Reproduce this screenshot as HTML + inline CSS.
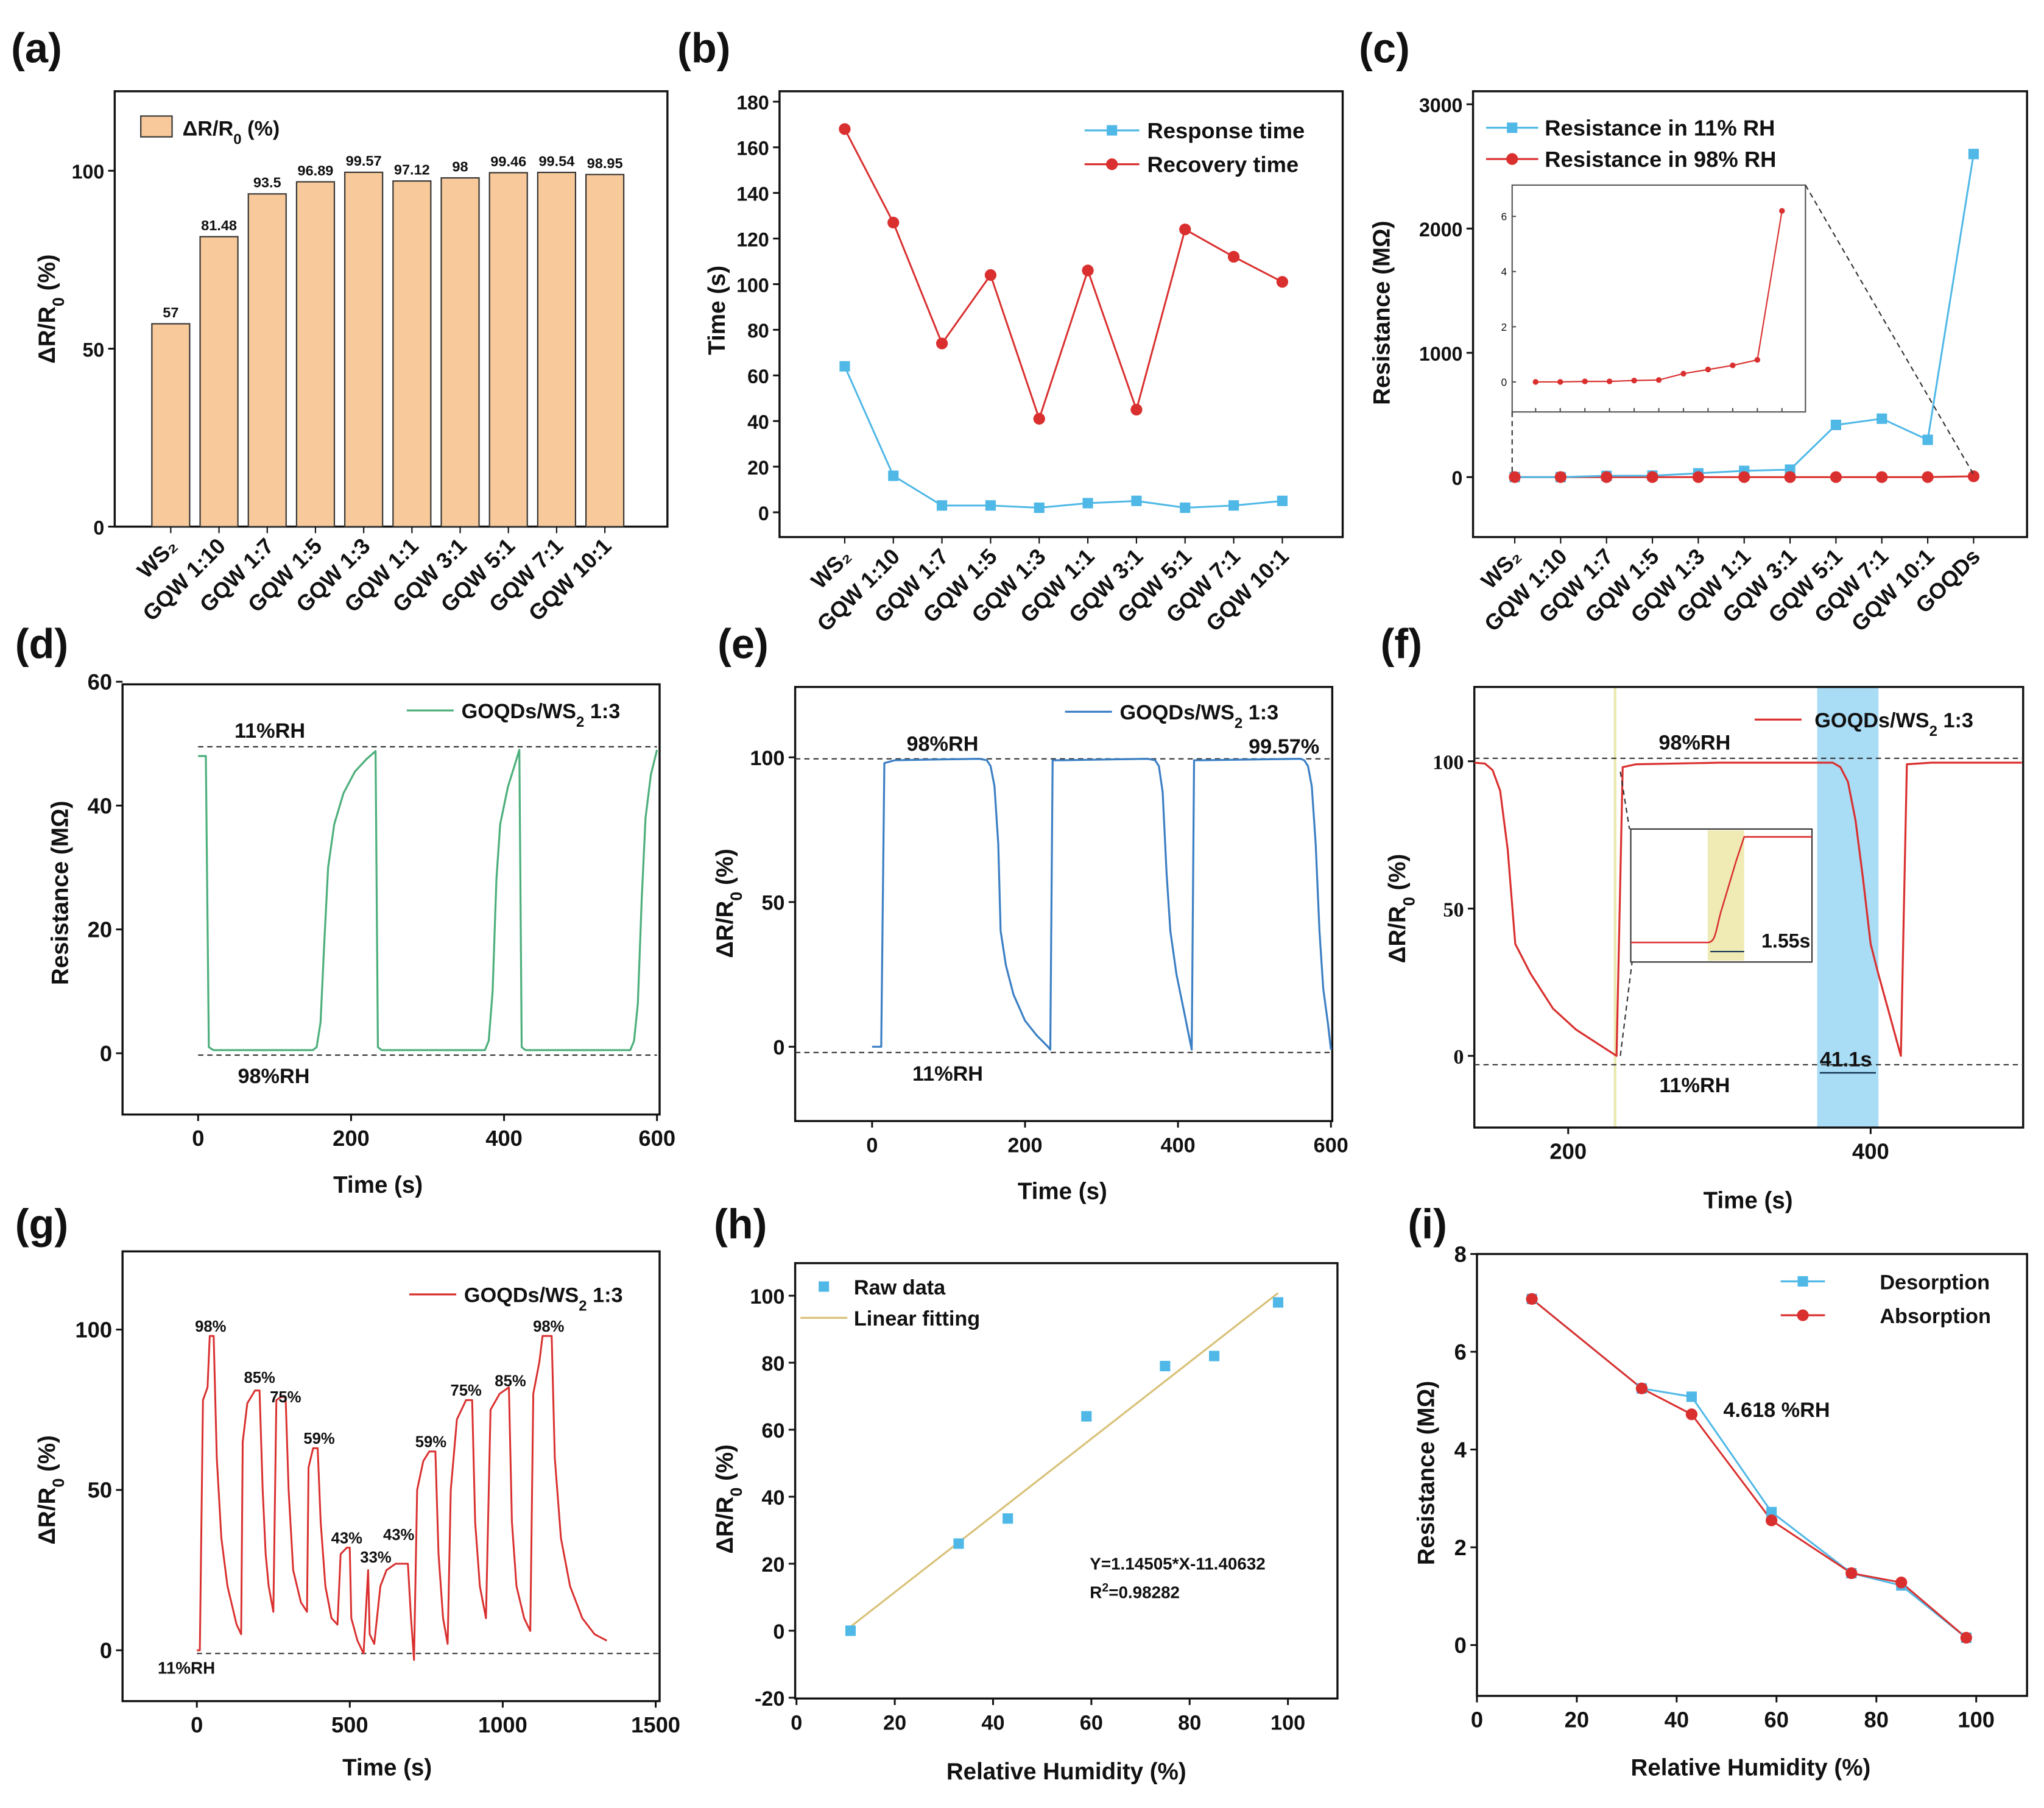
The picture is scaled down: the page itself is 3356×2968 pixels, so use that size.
<!DOCTYPE html>
<html><head><meta charset="utf-8">
<style>
html,body{margin:0;padding:0;background:#fff;}
svg{display:block;font-family:"Liberation Sans",Arial,sans-serif;}
</style></head>
<body>
<svg id="fig" width="3356" height="2968" viewBox="0 0 1568 1387" preserveAspectRatio="none" xmlns="http://www.w3.org/2000/svg"></svg>
<script>
// ---------- data ----------
const catsA=['WS₂','GQW 1:10','GQW 1:7','GQW 1:5','GQW 1:3','GQW 1:1','GQW 3:1','GQW 5:1','GQW 7:1','GQW 10:1'];
const valsA=[57,81.48,93.5,96.89,99.57,97.12,98,99.46,99.54,98.95];
const labelsA=['57','81.48','93.5','96.89','99.57','97.12','98','99.46','99.54','98.95'];
const respB=[64,16,3,3,2,4,5,2,3,5];
const recB=[168,127,74,104,41,106,45,124,112,101];
const catsC=['WS₂','GQW 1:10','GQW 1:7','GQW 1:5','GQW 1:3','GQW 1:1','GQW 3:1','GQW 5:1','GQW 7:1','GQW 10:1','GOQDs'];
const res11C=[0,0,10,12,30,50,60,420,470,300,2600];
const res98C=[0,0,0,0,0,0,0,0,0,0,6.2];
const insetC=[0,0,0.02,0.02,0.05,0.07,0.3,0.45,0.6,0.8,6.2];
const tD=[0,10,14,20,150,155,160,165,170,178,190,205,220,232,235,240,375,380,385,390,395,405,415,420,423,428,565,570,575,580,585,592,600];
const vD=[48,48,1,0.5,0.5,1,5,18,30,37,42,45.5,47.5,48.8,1,0.5,0.5,2,10,28,37,43,47,49,1,0.5,0.5,2,8,25,38,45,49];
const tE=[0,12,16,30,140,150,155,160,165,168,175,185,200,215,230,233,236,250,360,370,375,380,385,390,398,408,418,421,430,560,565,570,575,580,585,590,596,600];
const vE=[0,0,98,99,99.5,99,97,90,70,40,28,18,9,4,0,-1,99,99,99.5,99,97,88,60,40,25,12,-1,99,99,99.5,99,97,90,70,40,20,8,-1];
const tF=[138,145,150,155,160,165,175,190,205,220,232,236,245,300,375,380,385,390,395,400,405,412,420,424,440,500];
const vF=[99.5,99.2,97,90,70,38,28,16,9,4,0,98,99,99.5,99.5,98,93,80,60,38,28,15,0,99,99.5,99.5];
const tG=[0,10,20,35,42,55,65,80,100,130,145,150,165,190,205,215,225,235,250,260,275,290,300,315,340,360,365,380,395,405,420,440,460,470,490,500,505,525,545,560,565,580,600,620,650,690,700,710,720,740,760,780,790,805,820,830,850,880,900,910,925,945,960,990,1020,1030,1045,1070,1090,1100,1120,1130,1160,1170,1190,1220,1260,1300,1320,1340];
const vG=[0,0,78,82,98,98,60,35,20,8,5,65,77,81,81,50,30,20,12,78,79,79,50,25,15,12,57,63,63,40,20,10,8,30,32,32,10,3,-1,25,5,2,20,25,27,27,10,-3,50,59,62,62,30,10,2,50,72,78,78,40,20,10,75,80,82,40,20,10,6,80,90,98,98,60,35,20,10,5,4,3];
const rhH=[11,33,43,59,75,85,98];
const respH=[0,26,33.5,64,79,82,98];
const rhI=[11,33,43,59,75,85,98];
const desI=[7.08,5.25,5.08,2.72,1.47,1.22,0.15];
const absI=[7.08,5.25,4.72,2.55,1.47,1.28,0.15];

// ---------- helpers ----------
const S=document.getElementById('fig');
const NS='http://www.w3.org/2000/svg';
function mk(tag,attrs,name,parent){
  const el=document.createElementNS(NS,tag);
  for(const k in attrs) el.setAttribute(k,attrs[k]);
  
  
  (parent||S).appendChild(el);
  return el;
}
function txt(x,y,s,size,name,opt){
  opt=opt||{};
  const el=mk('text',{x:x,y:y,'font-size':size,'font-weight':opt.w||'bold','text-anchor':opt.a||'middle',fill:opt.c||'#111','font-family':opt.f||'"Liberation Sans",Arial,sans-serif'},name);
  if(opt.r) el.setAttribute('transform','rotate('+opt.r+' '+x+' '+y+')');
  el.innerHTML=s;
  return el;
}
function lin(d0,d1,r0,r1){return v=>r0+(v-d0)*(r1-r0)/(d1-d0);}
function box(x0,y0,x1,y1,name){mk('rect',{x:x0,y:y0,width:x1-x0,height:y1-y0,fill:'none',stroke:'#111','stroke-width':1.6},name);}
function yticks(x0,ys,vals,name,fs,font){vals.forEach(v=>{const y=ys(v);mk('line',{x1:x0-5,y1:y,x2:x0,y2:y,stroke:'#111','stroke-width':1.4},name+'-tick');txt(x0-8,y+6,String(v),fs||15,name+'-label',{a:'end',f:font});});}
function xticks(y0,xs,vals,name,fs,font){vals.forEach(v=>{const x=xs(v);mk('line',{x1:x,y1:y0,x2:x,y2:y0+5,stroke:'#111','stroke-width':1.4},name+'-tick');txt(x,y0+24,String(v),fs||16,name+'-label',{f:font});});}
function poly(xs,ys,tv,vv,color,name,w){let d='';tv.forEach((t,i)=>{d+=(i?'L':'M')+xs(t).toFixed(1)+','+ys(vv[i]).toFixed(1);});return mk('path',{d:d,fill:'none',stroke:color,'stroke-width':w||1.6,'stroke-linejoin':'round'},name);}
function dash(x0,x1,y,name){mk('line',{x1:x0,y1:y,x2:x1,y2:y,stroke:'#333','stroke-width':1,'stroke-dasharray':'4,3'},name);}
const DR='ΔR/R<tspan baseline-shift="sub" font-size="70%">0</tspan> (%)';
const LEG='GOQDs/WS<tspan baseline-shift="sub" font-size="70%">2</tspan> 1:3';
function catLabels(xs,cats,y,name){cats.forEach((c,i)=>{txt(xs(i)+6,y,c,17,name,{a:'end',r:-45});});}

// ---------- (a) ----------
txt(28,48,'(a)',32,'panel-label-a');
{
 const xs=i=>131+i*37, ys=lin(0,100,404,131);
 box(88,70,512,404,'plot-area-a');
 valsA.forEach((v,i)=>{mk('rect',{x:xs(i)-14.5,y:ys(v),width:29,height:404-ys(v),fill:'#f8c99a',stroke:'#333','stroke-width':1},'bar-'+i);
   txt(xs(i),ys(v)-5,labelsA[i],11,'bar-value-'+i);});
 yticks(88,ys,[0,50,100],'y-tick-a');
 catsA.forEach((c,i)=>mk('line',{x1:xs(i),y1:404,x2:xs(i),y2:409,stroke:'#111'},'x-tick-a'));
 catLabels(xs,catsA,420,'x-label-a');
 mk('rect',{x:108,y:89,width:24,height:16,fill:'#f8c99a',stroke:'#333'},'legend-swatch-a');
 txt(140,104,'ΔR/R<tspan baseline-shift="sub" font-size="70%">0</tspan> (%)',16,'legend-text-a',{a:'start'});
 txt(42,237,DR,18,'y-axis-title-a',{r:-90});
}
// ---------- (b) ----------
txt(540,48,'(b)',32,'panel-label-b');
{
 const xs=i=>648+i*37.3, ys=lin(0,180,393,78);
 box(598,70,1030,412,'plot-area-b');
 yticks(598,ys,[0,20,40,60,80,100,120,140,160,180],'y-tick-b');
 respB.forEach((v,i)=>mk('line',{x1:xs(i),y1:412,x2:xs(i),y2:417,stroke:'#111'},'x-tick-b'));
 poly(xs,ys,respB.map((v,i)=>i),respB,'#4fb8e6','response-line',1.4);
 poly(xs,ys,recB.map((v,i)=>i),recB,'#d9302f','recovery-line',1.4);
 respB.forEach((v,i)=>mk('rect',{x:xs(i)-4,y:ys(v)-4,width:8,height:8,fill:'#4fb8e6'},'response-point'));
 recB.forEach((v,i)=>mk('circle',{cx:xs(i),cy:ys(v),r:4.5,fill:'#d9302f'},'recovery-point'));
 catLabels(xs,catsA,428,'x-label-b');
 mk('line',{x1:832,y1:100,x2:874,y2:100,stroke:'#4fb8e6','stroke-width':1.5},'legend-line-response');
 mk('rect',{x:849,y:96,width:8,height:8,fill:'#4fb8e6'},'legend-marker-response');
 txt(880,106,'Response time',17,'legend-text-response',{a:'start'});
 mk('line',{x1:832,y1:126,x2:874,y2:126,stroke:'#d9302f','stroke-width':1.5},'legend-line-recovery');
 mk('circle',{cx:853,cy:126,r:4.5,fill:'#d9302f'},'legend-marker-recovery');
 txt(880,132,'Recovery time',17,'legend-text-recovery',{a:'start'});
 txt(556,238,'Time (s)',18,'y-axis-title-b',{r:-90});
}
// ---------- (c) ----------
txt(1062,48,'(c)',32,'panel-label-c');
{
 const xs=i=>1162+i*35.2, ys=lin(0,3000,366,80);
 box(1130,70,1555,412,'plot-area-c');
 yticks(1130,ys,[0,1000,2000,3000],'y-tick-c');
 catsC.forEach((c,i)=>mk('line',{x1:xs(i),y1:412,x2:xs(i),y2:417,stroke:'#111'},'x-tick-c'));
 poly(xs,ys,res98C.map((v,i)=>i),res98C,'#d9302f','res98-line',1.4);
 poly(xs,ys,res11C.map((v,i)=>i),res11C,'#4fb8e6','res11-line',1.4);
 res11C.forEach((v,i)=>mk('rect',{x:xs(i)-4,y:ys(v)-4,width:8,height:8,fill:'#4fb8e6'},'res11-point'));
 res98C.forEach((v,i)=>mk('circle',{cx:xs(i),cy:ys(v),r:4.5,fill:'#d9302f'},'res98-point'));
 catLabels(xs,catsC,428,'x-label-c');
 mk('line',{x1:1140,y1:98,x2:1180,y2:98,stroke:'#4fb8e6','stroke-width':1.5},'legend-line-11');
 mk('rect',{x:1156,y:94,width:8,height:8,fill:'#4fb8e6'},'legend-marker-11');
 txt(1185,104,'Resistance in 11% RH',17,'legend-text-11',{a:'start'});
 mk('line',{x1:1140,y1:122,x2:1180,y2:122,stroke:'#d9302f','stroke-width':1.5},'legend-line-98');
 mk('circle',{cx:1160,cy:122,r:4.5,fill:'#d9302f'},'legend-marker-98');
 txt(1185,128,'Resistance in 98% RH',17,'legend-text-98',{a:'start'});
 txt(1066,240,'Resistance (MΩ)',18,'y-axis-title-c',{r:-90});
 const ix=i=>1178+i*18.9, iy=lin(0,6,293,166);
 mk('rect',{x:1160,y:142,width:225,height:174,fill:'#fff',stroke:'#555','stroke-width':1},'inset-c');
 [0,2,4,6].forEach(v=>{txt(1156,iy(v)+3,String(v),8,'inset-y-label',{a:'end',w:'normal'});mk('line',{x1:1160,y1:iy(v),x2:1163,y2:iy(v),stroke:'#555'},'inset-y-tick');});
 insetC.forEach((v,i)=>mk('line',{x1:ix(i),y1:316,x2:ix(i),y2:313,stroke:'#555'},'inset-x-tick'));
 poly(ix,iy,insetC.map((v,i)=>i),insetC,'#d9302f','inset-line',1);
 insetC.forEach((v,i)=>mk('circle',{cx:ix(i),cy:iy(v),r:2.2,fill:'#d9302f'},'inset-point'));
 mk('line',{x1:1160,y1:316,x2:1160,y2:364,stroke:'#333','stroke-dasharray':'4,3'},'inset-connector-left');
 mk('line',{x1:1385,y1:142,x2:1514,y2:364,stroke:'#333','stroke-dasharray':'4,3'},'inset-connector-right');
}
// ---------- (d) ----------
txt(32,505,'(d)',32,'panel-label-d');
{
 const xs=lin(0,600,152,504), ys=lin(0,60,808,523);
 box(94,525,506,855,'plot-area-d');
 yticks(94,ys,[0,20,40,60],'y-tick-d',17);
 xticks(855,xs,[0,200,400,600],'x-tick-d',17);
 dash(152,504,ys(49.5),'dashline-11rh-d'); dash(152,504,ys(-0.3),'dashline-98rh-d');
 poly(xs,ys,tD,vD,'#4daf7c','resistance-curve-d',1.5);
 txt(207,566,'11%RH',16,'label-11rh-d'); txt(210,831,'98%RH',16,'label-98rh-d');
 mk('line',{x1:312,y1:545,x2:348,y2:545,stroke:'#4daf7c','stroke-width':1.5},'legend-line-d');
 txt(354,551,LEG,16,'legend-text-d',{a:'start'});
 txt(52,685,'Resistance (MΩ)',18,'y-axis-title-d',{r:-90});
 txt(290,915,'Time (s)',18,'x-axis-title-d');
}
// ---------- (e) ----------
txt(570,505,'(e)',32,'panel-label-e');
{
 const xs=lin(0,600,669,1021), ys=lin(0,100,803,581);
 box(610,527,1022,860,'plot-area-e');
 yticks(610,ys,[0,50,100],'y-tick-e',16);
 xticks(860,xs,[0,200,400,600],'x-tick-e',16);
 dash(610,1022,ys(99.5),'dashline-98rh-e'); dash(610,1022,ys(-2),'dashline-11rh-e');
 poly(xs,ys,tE,vE,'#3b7fc4','response-curve-e',1.5);
 txt(723,576,'98%RH',16,'label-98rh-e'); txt(727,829,'11%RH',16,'label-11rh-e');
 txt(985,578,'99.57%',16,'label-value-e');
 mk('line',{x1:817,y1:546,x2:853,y2:546,stroke:'#3b7fc4','stroke-width':1.5},'legend-line-e');
 txt(859,552,LEG,16,'legend-text-e',{a:'start'});
 txt(562,693,DR,18,'y-axis-title-e',{r:-90});
 txt(815,920,'Time (s)',18,'x-axis-title-e');
}
// ---------- (f) ----------
txt(1075,505,'(f)',32,'panel-label-f');
{
 const xs=lin(200,400,1203,1435), ys=lin(0,100,810,584);
 mk('rect',{x:1394,y:527,width:47,height:338,fill:'#a9dcf5'},'highlight-band-f');
 mk('line',{x1:xs(231),y1:527,x2:xs(231),y2:865,stroke:'#eaeab0','stroke-width':2},'highlight-line-f');
 box(1131,527,1552,865,'plot-area-f');
 yticks(1131,ys,[0,50,100],'y-tick-f',16,'"Liberation Serif",serif');
 xticks(865,xs,[200,400],'x-tick-f',17);
 dash(1131,1552,ys(101),'dashline-98rh-f'); dash(1131,1552,ys(-3),'dashline-11rh-f');
 poly(xs,ys,tF,vF,'#d9302f','response-curve-f',1.5);
 txt(1300,575,'98%RH',16,'label-98rh-f'); txt(1300,838,'11%RH',16,'label-11rh-f');
 txt(1416,818,'41.1s',16,'label-41s-f');
 mk('line',{x1:1396,y1:823,x2:1439,y2:823,stroke:'#135','stroke-width':1.2},'arrow-41s-f');
 mk('line',{x1:1243,y1:592,x2:1250,y2:636,stroke:'#333','stroke-dasharray':'4,3'},'inset-connector-top-f');
 mk('line',{x1:1243,y1:810,x2:1252,y2:738,stroke:'#333','stroke-dasharray':'4,3'},'inset-connector-bottom-f');
 mk('rect',{x:1251,y:636,width:139,height:102,fill:'#fff',stroke:'#333','stroke-width':1},'inset-f');
 mk('rect',{x:1310,y:637,width:28,height:100,fill:'#f0ebb5'},'inset-band-f');
 mk('path',{d:'M1251,723 L1310,723 C1316,723 1316,715 1320,700 L1326,680 L1332,660 L1338,642 L1390,642',fill:'none',stroke:'#d9302f','stroke-width':1.2},'inset-curve-f');
 txt(1370,727,'1.55s',15,'label-155s-f');
 mk('line',{x1:1312,y1:730,x2:1338,y2:730,stroke:'#135'},'arrow-155s-f');
 mk('line',{x1:1346,y1:552,x2:1382,y2:552,stroke:'#d9302f','stroke-width':1.5},'legend-line-f');
 txt(1392,558,LEG,16,'legend-text-f',{a:'start'});
 txt(1078,697,DR,18,'y-axis-title-f',{r:-90});
 txt(1341,927,'Time (s)',18,'x-axis-title-f');
}
// ---------- (g) ----------
txt(32,950,'(g)',32,'panel-label-g');
{
 const xs=lin(0,1500,151,503), ys=lin(0,100,1266,1020);
 box(94,960,506,1305,'plot-area-g');
 yticks(94,ys,[0,50,100],'y-tick-g',17);
 xticks(1305,xs,[0,500,1000,1500],'x-tick-g',17);
 dash(151,506,ys(-1),'dashline-11rh-g');
 poly(xs,ys,tG,vG,'#d9302f','response-curve-g',1.4);
 const pl=[[45,101,'98%'],[205,85,'85%'],[290,79,'75%'],[400,66,'59%'],[490,35,'43%'],[585,29,'33%'],[660,36,'43%'],[765,65,'59%'],[880,81,'75%'],[1025,84,'85%'],[1150,101,'98%']];
 pl.forEach(p=>txt(xs(p[0]),ys(p[1])+4,p[2],12,'step-label-g'));
 txt(143,1284,'11%RH',13,'label-11rh-g');
 mk('line',{x1:314,y1:993,x2:350,y2:993,stroke:'#d9302f','stroke-width':1.5},'legend-line-g');
 txt(356,999,LEG,16,'legend-text-g',{a:'start'});
 txt(42,1143,DR,18,'y-axis-title-g',{r:-90});
 txt(297,1362,'Time (s)',18,'x-axis-title-g');
}
// ---------- (h) ----------
txt(568,950,'(h)',32,'panel-label-h');
{
 const xs=lin(0,100,611,988), ys=lin(0,100,1251,994);
 box(610,969,1026,1303,'plot-area-h');
 yticks(610,ys,[-20,0,20,40,60,80,100],'y-tick-h',16);
 xticks(1303,xs,[0,20,40,60,80,100],'x-tick-h',16);
 const fx=[11,98];
 mk('line',{x1:xs(fx[0]),y1:ys(1.14505*fx[0]-11.40632),x2:xs(fx[1]),y2:ys(1.14505*fx[1]-11.40632),stroke:'#d9c27a','stroke-width':1.5},'fit-line-h');
 rhH.forEach((r,i)=>mk('rect',{x:xs(r)-4,y:ys(respH[i])-4,width:8,height:8,fill:'#4fb8e6'},'raw-point-h'));
 mk('rect',{x:628,y:983,width:8,height:8,fill:'#4fb8e6'},'legend-marker-raw');
 txt(655,993,'Raw data',16,'legend-text-raw',{a:'start'});
 mk('line',{x1:614,y1:1011,x2:650,y2:1011,stroke:'#d9c27a','stroke-width':1.5},'legend-line-fit');
 txt(655,1017,'Linear fitting',16,'legend-text-fit',{a:'start'});
 txt(836,1204,'Y=1.14505*X-11.40632',13,'equation-h',{a:'start'});
 txt(836,1226,'R<tspan baseline-shift="super" font-size="70%">2</tspan>=0.98282',13,'r2-h',{a:'start'});
 txt(562,1150,DR,18,'y-axis-title-h',{r:-90});
 txt(818,1365,'Relative Humidity (%)',18,'x-axis-title-h');
}
// ---------- (i) ----------
txt(1095,950,'(i)',32,'panel-label-i');
{
 const xs=lin(0,100,1133,1516), ys=lin(0,8,1262,962);
 box(1133,962,1555,1301,'plot-area-i');
 yticks(1133,ys,[0,2,4,6,8],'y-tick-i',17);
 xticks(1301,xs,[0,20,40,60,80,100],'x-tick-i',17);
 poly(xs,ys,rhI,desI,'#4fb8e6','desorption-line',1.4);
 poly(xs,ys,rhI,absI,'#d9302f','absorption-line',1.4);
 rhI.forEach((r,i)=>mk('rect',{x:xs(r)-4,y:ys(desI[i])-4,width:8,height:8,fill:'#4fb8e6'},'desorption-point'));
 rhI.forEach((r,i)=>mk('circle',{cx:xs(r),cy:ys(absI[i]),r:4.5,fill:'#d9302f'},'absorption-point'));
 mk('line',{x1:1366,y1:983,x2:1400,y2:983,stroke:'#4fb8e6','stroke-width':1.5},'legend-line-des');
 mk('rect',{x:1379,y:979,width:8,height:8,fill:'#4fb8e6'},'legend-marker-des');
 txt(1442,989,'Desorption',16,'legend-text-des',{a:'start'});
 mk('line',{x1:1366,y1:1009,x2:1400,y2:1009,stroke:'#d9302f','stroke-width':1.5},'legend-line-abs');
 mk('circle',{cx:1383,cy:1009,r:4.5,fill:'#d9302f'},'legend-marker-abs');
 txt(1442,1015,'Absorption',16,'legend-text-abs',{a:'start'});
 txt(1322,1087,'4.618 %RH',16,'hysteresis-label-i',{a:'start'});
 txt(1100,1130,'Resistance (MΩ)',18,'y-axis-title-i',{r:-90});
 txt(1343,1362,'Relative Humidity (%)',18,'x-axis-title-i');
}
</script>
</body></html>
